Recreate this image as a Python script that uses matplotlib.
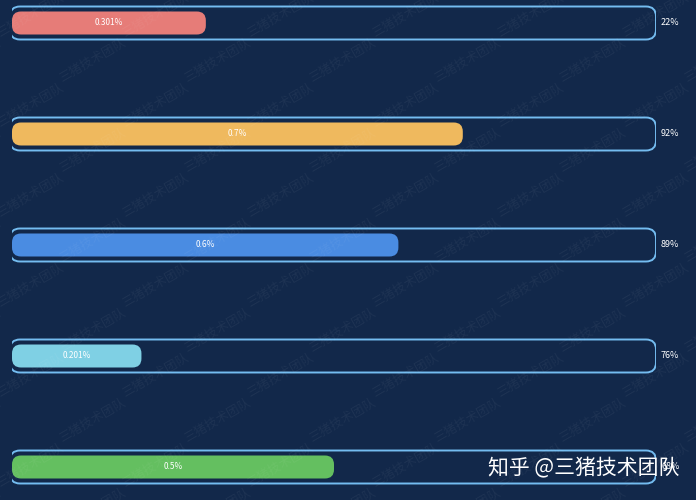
import matplotlib
matplotlib.use("Agg")
import matplotlib.pyplot as plt
from matplotlib.patches import FancyBboxPatch

plt.rcParams['font.family'] = ['Noto Sans CJK SC', 'DejaVu Sans']

# data
rates = [0.301, 0.7, 0.6, 0.201, 0.5]          # bar length (fraction of track)
rate_labels = ["0.301%", "0.7%", "0.6%", "0.201%", "0.5%"]
right_labels = ["22%", "92%", "89%", "76%", "68%"]
colors = ["#e67c78", "#efb95e", "#4a8ce2", "#7fd0e4", "#64bf60"]

bg = "#12284a"
border = "#74bcf0"

W, H = 696, 500
fig = plt.figure(figsize=(W / 100, H / 100), dpi=100, facecolor=bg)

# axes: x = fraction of track (0..1 maps to px 12..656), y = row index
x0_px, x1_px = 12, 656
ax = fig.add_axes([x0_px / W, 0, (x1_px - x0_px) / W, 1])
ax.set_facecolor(bg)
row_px = 111
first_px = 23
ax.set_xlim(0, 1)
ax.set_ylim((H - first_px) / row_px, -first_px / row_px)
ax.axis("off")

px_x = 1 / (x1_px - x0_px)   # data units per px horizontally
px_y = 1 / row_px            # data units per px vertically
aspect = px_y / px_x

# faint background watermarks
for j in range(-1, 12):
    for i in range(-1, 6):
        xp = i * 125 + (j % 2) * 62 + 30
        yp = j * 45 + 15
        fig.text(xp / W, 1 - yp / H, "三猪技术团队", fontsize=9, color="#ffffff",
                 alpha=0.05, rotation=30, ha="center", va="center")

outer_h = 33 * px_y
inner_h = 23 * px_y
for i, (v, c) in enumerate(zip(rates, colors)):
    # outer track
    ox = -2 * px_x
    ow = 1 + 2 * px_x
    outer = FancyBboxPatch((ox, i - outer_h / 2), ow, outer_h,
                           boxstyle="round,pad=0,rounding_size=%f" % (10 * px_x),
                           mutation_aspect=aspect, facecolor="none",
                           edgecolor=border, linewidth=1.4, zorder=2)
    ax.add_patch(outer)
    # inner bar
    inner = FancyBboxPatch((0, i - inner_h / 2), v, inner_h,
                           boxstyle="round,pad=0,rounding_size=%f" % (9 * px_x),
                           mutation_aspect=aspect, facecolor=c,
                           edgecolor="none", zorder=3)
    ax.add_patch(inner)
    ax.text(v / 2, i, rate_labels[i], color="white", fontsize=6,
            ha="center", va="center", zorder=4)
    ax.text(1 + 5 * px_x, i, right_labels[i], color="white", fontsize=6.5,
            ha="left", va="center", zorder=4)

# zhihu watermark
fig.text(488 / W, 1 - 468 / H, "知乎 @三猪技术团队", fontsize=15, color="white",
         ha="left", va="center", zorder=10)

fig.savefig("out.png", dpi=100, facecolor=bg)
